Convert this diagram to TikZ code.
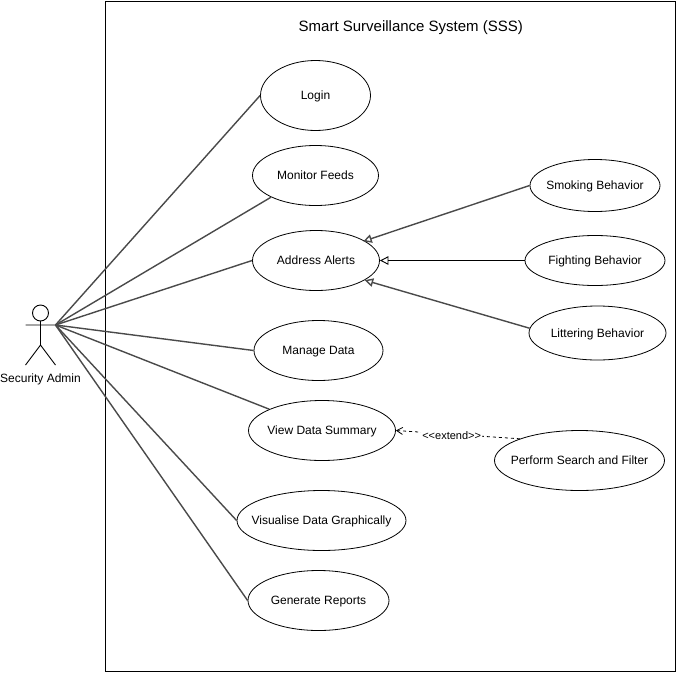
\documentclass[tikz,border=0pt]{standalone}
\usepackage{fontspec}
\setmainfont{Liberation Sans}
\usetikzlibrary{arrows.meta,shapes.geometric}
\definecolor{linkgray}{HTML}{4A4A4A}
\tikzset{
  usecase/.style={draw=black,line width=0.8pt,ellipse,inner sep=0pt,font=\fontsize{12}{14}\selectfont,align=center},
  assoc/.style={draw=linkgray,line width=1.4pt},
  genlink/.style={draw=linkgray,line width=1.4pt,-{Triangle[open,length=8.5pt,width=8.5pt,fill=white]}},
  extlink/.style={draw=black,line width=0.8pt,dashed,dash pattern=on 3pt off 3pt,-{Straight Barb[open,length=6pt,width=7pt]}},
  actorline/.style={draw=black,line width=0.9pt},
  caption/.style={font=\fontsize{12}{14}\selectfont,inner sep=0pt},
}
\newcommand{\uc}[6]{\node[usecase,minimum width=#4pt,minimum height=#5pt] (#1) at (#2,#3) {\raisebox{-4pt}[0pt][0pt]{\makebox[0pt]{#6}}};}
\begin{document}
\begin{tikzpicture}[x=1pt,y=-1pt]
\useasboundingbox (0,0) rectangle (677,672);
\node[draw=black,line width=0.9pt,minimum width=570pt,minimum height=670pt,inner sep=0pt,anchor=north west] (frame) at (105.2,0.5) {};
\node[inner sep=0pt,font=\fontsize{15}{18}\selectfont] (title) at (410.8,27.8) {Smart Surveillance System (SSS)};
\uc{login}{315.5}{95.5}{110}{70}{Login}
\uc{monitor}{315.5}{175.5}{126}{60}{Monitor Feeds}
\uc{address}{316}{260.5}{127}{60}{Address Alerts}
\uc{manage}{318.5}{350.5}{129}{60}{Manage Data}
\uc{view}{322}{430.5}{147}{60}{View Data Summary}
\uc{visual}{321.5}{520.5}{169}{60}{Visualise Data Graphically}
\uc{report}{318.5}{600.5}{141}{60}{Generate Reports}
\uc{smoke}{595}{185.5}{130}{52}{Smoking Behavior}
\uc{fight}{595}{260.5}{140}{50}{Fighting Behavior}
\uc{litter}{597.5}{333}{137}{54}{Littering Behavior}
\uc{search}{579.5}{460.5}{170}{60}{Perform Search and Filter}
% actor
\draw[actorline] (40.5,313) circle (8);
\coordinate (neck) at (40.5,321);
\coordinate (hip) at (40.5,345);
\coordinate (handL) at (25.5,325);
\coordinate (hand) at (55.5,325);
\coordinate (footL) at (25.5,365);
\coordinate (footR) at (55.5,365);
\draw[actorline] (neck) -- (hip) (handL) -- (hand) (footL) -- (hip) -- (footR);
\node[caption] (actor) at (40.5,379) {Security Admin};
% associations
\draw[assoc] (hand) -- (login.west);
\draw[assoc] (hand) -- (monitor.206);
\draw[assoc] (hand) -- (address.west);
\draw[assoc] (hand) -- (manage.west);
\draw[assoc] (hand) -- (view.158);
\draw[assoc] (hand) -- (visual.west);
\draw[assoc] (hand) -- (report.west);
% generalisations
\draw[genlink,shorten >=-1.5pt] (smoke.west) -- (address.22);
\draw[genlink,draw=black,line width=0.9pt] (fight.west) -- (address.east);
\draw[genlink] (litter.176) -- (address.-22);
% extend
\draw[extlink] (search.160) -- node[pos=0.55,yshift=-1.5pt,fill=white,inner sep=1pt,font=\fontsize{11}{12}\selectfont] (extlabel) {{<}{<}extend{>}{>}} (view.east);
\end{tikzpicture}
\end{document}
